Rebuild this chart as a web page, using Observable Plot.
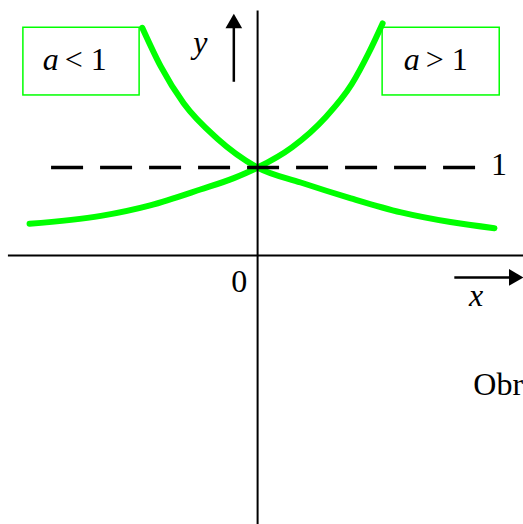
<!DOCTYPE html>
<html>
<head>
<meta charset="utf-8">
<script src="https://cdn.jsdelivr.net/npm/d3@7"></script>
<script src="https://cdn.jsdelivr.net/npm/@observablehq/plot@0.6"></script>
<style>
  html, body { margin: 0; padding: 0; background: #fff; }
  #chart svg { display: block; }
</style>
</head>
<body>
<div id="chart"></div>
<script>
// Curve a > 1 (growing exponential)
const growX = [-2.59, -1.78, -1.22, -0.65, -0.27, 0, 0.39, 0.77, 1.07, 1.26, 1.42];
const growY = [0.36, 0.45, 0.57, 0.75, 0.88, 1, 1.23, 1.57, 1.95, 2.30, 2.64];
// Curve a < 1 (decaying exponential)
const decayX = [-1.31, -1.10, -0.84, -0.46, 0, 0.49, 1.06, 1.63, 2.19, 2.69];
const decayY = [2.59, 2.15, 1.73, 1.33, 1, 0.83, 0.65, 0.49, 0.38, 0.31];

// Labels
const boxVars = ["a", "a"];
const boxRelations = ["< 1", "> 1"];
const oneLabel = "1";
const originLabel = "0";
const axisNames = ["x", "y"];
const captionText = "Obr";

// Annotation positions (data units)
const boxX1 = [-2.66, 1.42];
const boxX2 = [-1.34, 2.75];
const boxY1 = [2.59, 2.59];
const boxY2 = [1.82, 1.82];
const boxVarX = [-2.44, 1.66];
const boxRelX = [-2.19, 1.91];
const boxTextY = 2.11;

const growData = growX.map((x, i) => ({x, y: growY[i]}));
const decayData = decayX.map((x, i) => ({x, y: decayY[i]}));
const boxes = boxVars.map((v, i) => ({v, rel: boxRelations[i], x1: boxX1[i], x2: boxX2[i], y1: boxY1[i], y2: boxY2[i], vx: boxVarX[i], rx: boxRelX[i]}));

const green = "#00ff00";
const serif = "Liberation Serif, Times New Roman, serif";

const plot = Plot.plot({
  width: 523,
  height: 524,
  margin: 0,
  x: {domain: [-2.92, 3.02], axis: null},
  y: {domain: [-3.06, 2.90], axis: null},
  style: {fontFamily: serif, background: "#fff"},
  marks: [
    Plot.line(growData, {x: "x", y: "y", stroke: green, strokeWidth: 6, curve: "monotone-x"}),
    Plot.line(decayData, {x: "x", y: "y", stroke: green, strokeWidth: 6, curve: "monotone-x"}),
    Plot.ruleY([1], {x1: -2.34, x2: 2.50, stroke: "#000", strokeWidth: 3.5, strokeDasharray: "32,17"}),
    Plot.ruleX([0], {y1: -3.06, y2: 2.78, stroke: "#000", strokeWidth: 2}),
    Plot.ruleY([0], {x1: -2.83, x2: 3.02, stroke: "#000", strokeWidth: 2}),
    // y arrow
    Plot.ruleX([-0.27], {y1: 1.97, y2: 2.62, stroke: "#000", strokeWidth: 2.5}),
    Plot.dot([{x: -0.27, y: 2.64}], {x: "x", y: "y", symbol: "triangle", fill: "#000", r: 6.2, stroke: null}),
    // x arrow
    Plot.ruleY([-0.25], {x1: 2.24, x2: 2.89, stroke: "#000", strokeWidth: 2.5}),
    Plot.dot([{x: 2.91, y: -0.25}], {x: "x", y: "y", symbol: "triangle", fill: "#000", r: 6.2, stroke: null, rotate: 90}),
    // boxes
    Plot.rect(boxes, {x1: "x1", x2: "x2", y1: "y1", y2: "y2", fill: "none", stroke: green, strokeWidth: 1.5}),
    Plot.text(boxes, {x: "vx", y: boxTextY, text: "v", fontSize: 32, fontStyle: "italic", textAnchor: "start", lineAnchor: "bottom", fill: "#000"}),
    Plot.text(boxes, {x: "rx", y: boxTextY, text: "rel", fontSize: 32, textAnchor: "start", lineAnchor: "bottom", fill: "#000"}),
    // labels
    Plot.text([oneLabel], {x: 2.65, y: 0.91, text: d => d, fontSize: 32, textAnchor: "start", lineAnchor: "bottom", fill: "#000"}),
    Plot.text([originLabel], {x: -0.30, y: -0.42, text: d => d, fontSize: 32, textAnchor: "start", lineAnchor: "bottom", fill: "#000"}),
    Plot.text([axisNames[1]], {x: -0.73, y: 2.30, text: d => d, fontSize: 32, fontStyle: "italic", textAnchor: "start", lineAnchor: "bottom", fill: "#000"}),
    Plot.text([axisNames[0]], {x: 2.40, y: -0.57, text: d => d, fontSize: 32, fontStyle: "italic", textAnchor: "start", lineAnchor: "bottom", fill: "#000"}),
    Plot.text([captionText], {x: 2.45, y: -1.59, text: d => d, fontSize: 32, textAnchor: "start", lineAnchor: "bottom", fill: "#000"})
  ]
});
document.getElementById("chart").appendChild(plot);
</script>
</body>
</html>
